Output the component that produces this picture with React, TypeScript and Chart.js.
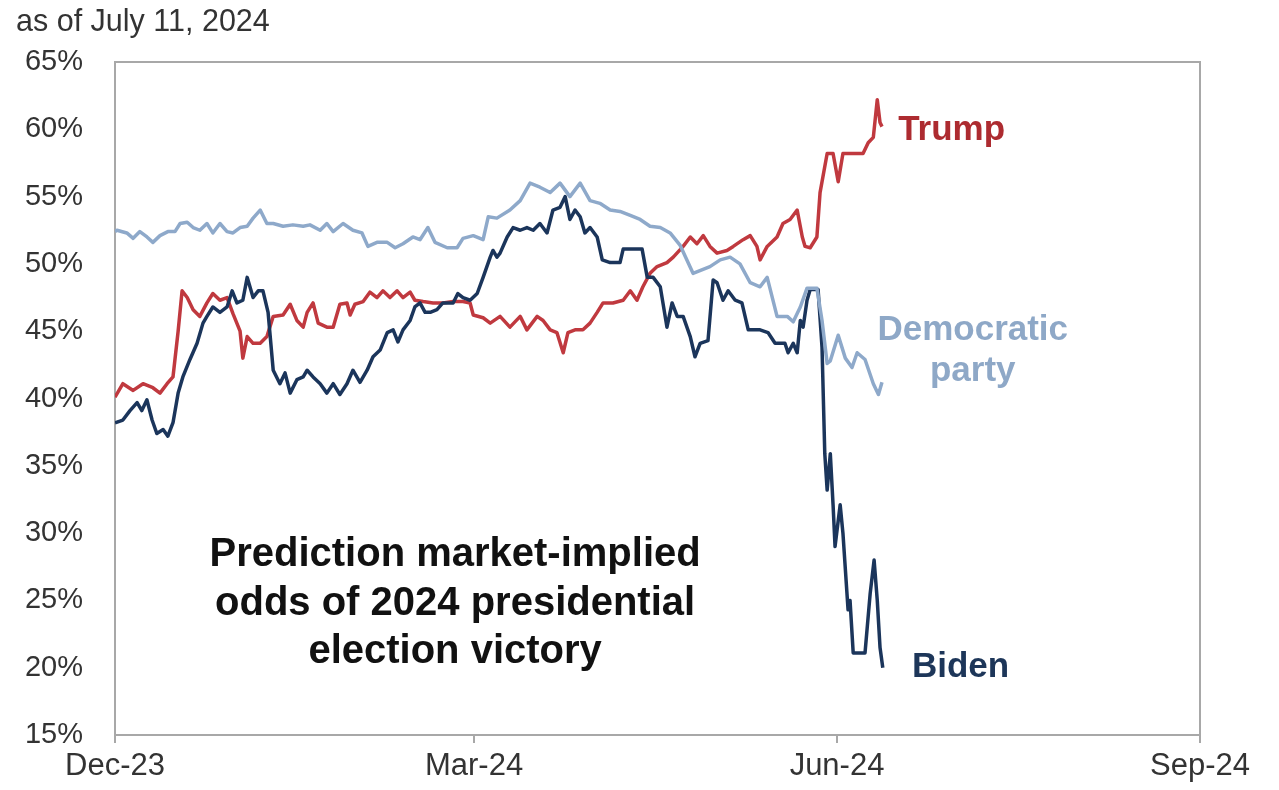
import React, { useEffect, useRef } from 'react';
import { Chart, registerables } from 'chart.js';

Chart.register(...registerables);

// x axis: days counted from the "Dec-23" tick
const tickDays = [0, 91, 183, 275];
const tickLabels = ['Dec-23', 'Mar-24', 'Jun-24', 'Sep-24'];

const yTicksMin = 15;
const yTicksMax = 65;

const demDays = [0, 0.5, 3.0, 4.6, 6.3, 8.1, 9.6, 11.4, 13.4, 15.2, 16.5, 18.3, 19.8, 21.5, 23.3, 24.8, 26.6, 28.4, 29.9, 31.7, 33.5, 35.0, 36.8, 38.5, 40.1, 42.6, 45.1, 47.7, 49.4, 52.0, 53.7, 55.3, 57.8, 60.3, 62.6, 64.1, 66.4, 69.0, 71.0, 73.0, 75.5, 77.3, 79.3, 81.1, 84.2, 86.7, 88.2, 90.8, 93.3, 94.6, 96.8, 100.1, 102.7, 105.2, 107.7, 110.3, 112.8, 115.3, 117.9, 120.4, 122.9, 125.5, 128.0, 130.6, 133.1, 135.6, 138.2, 140.7, 143.2, 146.5, 150.8, 153.4, 155.9, 158.4, 161.0, 163.5, 165.3, 167.8, 170.4, 171.9, 173.7, 175.4, 177.9, 179.2, 180.5, 181.3, 183.3, 185.1, 186.8, 188.1, 190.1, 192.2, 193.5, 194.4];
const demValues = [52.4, 52.5, 52.3, 51.9, 52.4, 52.0, 51.6, 52.1, 52.4, 52.4, 53.0, 53.1, 52.7, 52.5, 53.0, 52.3, 53.0, 52.4, 52.3, 52.7, 52.8, 53.4, 54.0, 53.0, 53.0, 52.8, 52.9, 52.8, 52.9, 52.5, 53.0, 52.4, 53.0, 52.5, 52.3, 51.3, 51.6, 51.6, 51.2, 51.5, 52.0, 51.8, 52.7, 51.6, 51.2, 51.2, 51.9, 52.1, 51.8, 53.5, 53.4, 54.0, 54.7, 56.0, 55.7, 55.3, 56.0, 55.0, 56.0, 54.7, 54.5, 54.0, 53.9, 53.6, 53.3, 52.8, 52.7, 52.3, 51.4, 49.3, 49.8, 50.3, 50.5, 50.0, 48.6, 48.3, 49.0, 46.1, 46.1, 45.7, 46.8, 48.2, 48.2, 45.8, 42.6, 42.8, 44.7, 43.0, 42.3, 43.4, 42.9, 41.1, 40.3, 41.2];

const bidenDays = [0, 2.0, 3.8, 5.6, 6.8, 8.1, 9.4, 10.6, 12.2, 13.4, 14.7, 16.0, 17.2, 19.0, 20.8, 22.3, 23.3, 24.8, 26.6, 28.4, 29.7, 30.9, 32.4, 33.5, 35.0, 36.3, 37.5, 38.8, 40.1, 41.8, 43.1, 44.4, 46.1, 47.7, 48.7, 50.2, 52.0, 53.7, 55.3, 57.0, 58.8, 60.3, 62.1, 63.9, 65.4, 67.2, 69.0, 70.5, 71.7, 73.0, 74.8, 76.0, 77.3, 78.6, 79.9, 81.6, 83.1, 85.7, 86.9, 88.2, 90.0, 91.8, 93.3, 95.1, 95.8, 96.8, 97.6, 99.4, 100.9, 102.7, 104.4, 106.0, 107.7, 109.5, 111.0, 112.8, 114.1, 115.3, 116.6, 117.9, 119.1, 120.4, 122.2, 123.5, 125.5, 128.0, 128.8, 131.3, 133.6, 134.9, 136.4, 138.2, 139.9, 141.2, 142.5, 144.0, 145.8, 147.0, 148.3, 150.3, 151.6, 152.6, 154.1, 155.4, 157.2, 158.9, 160.5, 163.5, 165.5, 167.3, 169.8, 170.6, 171.9, 172.9, 173.7, 174.4, 175.4, 176.2, 178.2, 179.2, 179.9, 180.5, 181.3, 182.0, 182.5, 183.8, 184.5, 185.8, 186.3, 187.1, 190.1, 191.4, 192.4, 193.2, 193.9, 194.6];
const bidenValues = [38.2, 38.4, 39.1, 39.7, 39.1, 39.9, 38.4, 37.4, 37.7, 37.2, 38.2, 40.4, 41.6, 42.9, 44.1, 45.6, 46.1, 46.8, 46.4, 46.8, 48.0, 47.1, 47.3, 49.0, 47.5, 48.0, 48.0, 46.4, 42.1, 41.1, 41.9, 40.4, 41.4, 41.6, 42.1, 41.6, 41.1, 40.4, 41.1, 40.3, 41.1, 42.1, 41.2, 42.1, 43.1, 43.6, 44.9, 45.1, 44.2, 45.1, 45.8, 46.8, 47.1, 46.4, 46.4, 46.6, 47.1, 47.1, 47.8, 47.5, 47.3, 47.8, 49.0, 50.5, 51.0, 50.5, 50.8, 52.0, 52.7, 52.5, 52.7, 52.5, 53.0, 52.3, 54.0, 54.2, 55.0, 53.3, 54.0, 53.5, 52.3, 52.7, 52.0, 50.3, 50.1, 50.1, 51.1, 51.1, 51.1, 49.0, 49.0, 48.3, 45.3, 47.1, 46.1, 46.1, 44.6, 43.1, 44.1, 44.3, 48.8, 48.6, 47.3, 48.0, 47.3, 47.1, 45.1, 45.1, 44.9, 44.1, 44.1, 43.4, 44.1, 43.4, 45.8, 45.3, 47.3, 48.1, 48.1, 43.8, 35.9, 33.2, 35.9, 32.1, 29.0, 32.1, 30.0, 24.3, 25.0, 21.1, 21.1, 25.5, 28.0, 25.0, 21.5, 20.0];

const trumpDays = [0, 2.0, 4.6, 7.1, 9.6, 11.4, 13.2, 14.7, 16.0, 17.0, 18.3, 19.8, 21.5, 23.3, 24.8, 26.6, 28.4, 29.9, 31.7, 32.4, 33.5, 35.0, 36.8, 38.5, 40.1, 42.6, 44.4, 46.1, 47.7, 48.7, 50.2, 51.5, 53.7, 55.3, 57.0, 58.8, 59.6, 60.8, 62.9, 64.6, 66.4, 67.9, 69.7, 71.5, 73.0, 74.8, 76.0, 78.1, 80.6, 83.1, 85.7, 88.2, 90.0, 90.8, 93.3, 95.1, 97.6, 100.1, 102.7, 104.4, 107.0, 108.5, 110.3, 112.0, 113.6, 114.8, 116.6, 118.6, 120.4, 122.2, 123.7, 126.2, 128.8, 130.6, 132.3, 133.8, 135.6, 137.4, 139.9, 141.5, 144.0, 145.8, 147.5, 149.1, 150.8, 152.6, 155.1, 156.7, 159.2, 161.0, 162.7, 163.5, 165.3, 167.8, 169.3, 171.1, 172.9, 174.2, 174.9, 176.2, 177.9, 178.7, 180.5, 182.0, 183.3, 184.5, 188.1, 189.6, 190.9, 192.2, 193.2, 193.9, 194.4];
const trumpValues = [40.1, 41.1, 40.6, 41.1, 40.8, 40.4, 41.1, 41.6, 45.0, 48.0, 47.5, 46.6, 46.1, 47.1, 47.8, 47.3, 47.5, 46.3, 45.0, 43.0, 44.6, 44.1, 44.1, 44.6, 46.1, 46.2, 47.0, 45.8, 45.3, 46.4, 47.1, 45.6, 45.3, 45.3, 47.0, 47.1, 46.2, 47.0, 47.2, 47.9, 47.5, 48.0, 47.5, 48.0, 47.5, 47.9, 47.3, 47.2, 47.1, 47.1, 47.2, 47.2, 47.1, 46.2, 46.0, 45.6, 46.1, 45.3, 46.1, 45.1, 46.1, 45.8, 45.1, 44.9, 43.4, 44.9, 45.1, 45.1, 45.6, 46.4, 47.1, 47.1, 47.3, 48.0, 47.3, 48.3, 49.3, 49.8, 50.1, 50.5, 51.3, 52.0, 51.5, 52.1, 51.3, 50.8, 51.0, 51.3, 51.8, 52.1, 51.3, 50.3, 51.3, 52.0, 53.0, 53.3, 54.0, 52.0, 51.3, 51.2, 52.0, 55.3, 58.2, 58.2, 56.1, 58.2, 58.2, 58.2, 59.0, 59.4, 62.2, 60.5, 60.2];

const FONT = '"Liberation Sans", Arial, Helvetica, sans-serif';

const COLORS = {
  dem: '#8ea9ca',
  biden: '#1b355b',
  trump: '#c0393f',
  trumpLabel: '#ad2b30',
  demLabel: '#8ea8c7',
  bidenLabel: '#1d3659',
  axis: '#a8a8a8',
  text: '#333333',
};

const annotations = [
  { text: 'Trump', day: 198.5, value: 59.95, color: COLORS.trumpLabel, align: 'left', size: 35 },
  { text: 'Democratic', day: 217.4, value: 45.1, color: COLORS.demLabel, align: 'center', size: 35 },
  { text: 'party', day: 217.4, value: 42.0, color: COLORS.demLabel, align: 'center', size: 35 },
  { text: 'Biden', day: 202.0, value: 20.05, color: COLORS.bidenLabel, align: 'left', size: 35 },
  { text: 'Prediction market-implied', day: 86.2, value: 28.37, color: '#111111', align: 'center', size: 40 },
  { text: 'odds of 2024 presidential', day: 86.2, value: 24.73, color: '#111111', align: 'center', size: 40 },
  { text: 'election victory', day: 86.2, value: 21.17, color: '#111111', align: 'center', size: 40 },
];

const toPoints = (days: number[], vals: number[]) => days.map((d, i) => ({ x: d, y: vals[i] }));

const framePlugin = {
  id: 'frame',
  beforeDatasetsDraw(chart: any) {
    const { ctx, chartArea } = chart;
    const { left, top, right, bottom } = chartArea;
    ctx.save();
    ctx.strokeStyle = COLORS.axis;
    ctx.lineWidth = 2;
    ctx.strokeRect(left, top, right - left, bottom - top);
    ctx.restore();
  },
};

const textPlugin = {
  id: 'texts',
  afterDraw(chart: any) {
    const { ctx, scales } = chart;
    const xs = scales.x;
    const ys = scales.y;
    ctx.save();
    ctx.textBaseline = 'middle';
    for (const a of annotations) {
      ctx.font = `bold ${a.size}px ${FONT}`;
      ctx.fillStyle = a.color;
      ctx.textAlign = a.align;
      ctx.fillText(a.text, xs.getPixelForValue(a.day), ys.getPixelForValue(a.value));
    }
    ctx.font = `30.5px ${FONT}`;
    ctx.fillStyle = COLORS.text;
    ctx.textAlign = 'left';
    ctx.fillText('as of July 11, 2024', 16, 23);
    ctx.restore();
  },
};

export default function App() {
  const canvasRef = useRef<HTMLCanvasElement>(null);

  useEffect(() => {
    const canvas = canvasRef.current;
    if (!canvas) return;
    const lineStyle = { borderWidth: 3.5, pointRadius: 0, tension: 0, borderJoinStyle: 'round' };
    const chart = new Chart(canvas, {
      type: 'line',
      data: {
        datasets: [
          { label: 'Democratic party', data: toPoints(demDays, demValues), borderColor: COLORS.dem, ...lineStyle },
          { label: 'Biden', data: toPoints(bidenDays, bidenValues), borderColor: COLORS.biden, ...lineStyle },
          { label: 'Trump', data: toPoints(trumpDays, trumpValues), borderColor: COLORS.trump, ...lineStyle },
        ],
      },
      options: {
        animation: false,
        responsive: true,
        maintainAspectRatio: false,
        layout: { padding: { top: 62, right: 79, bottom: 0, left: 0 } },
        plugins: {
          legend: { display: false },
          tooltip: { enabled: false },
          title: { display: false },
        },
        scales: {
          x: {
            type: 'linear',
            min: tickDays[0],
            max: tickDays[tickDays.length - 1],
            afterBuildTicks: (scale: any) => {
              scale.ticks = tickDays.map((v) => ({ value: v }));
            },
            afterFit: (scale: any) => {
              scale.height = 55;
            },
            grid: {
              display: true,
              drawOnChartArea: false,
              drawTicks: true,
              tickLength: 8,
              color: COLORS.axis,
              lineWidth: 2,
            },
            border: { display: false },
            ticks: {
              autoSkip: false,
              maxRotation: 0,
              padding: 5,
              color: COLORS.text,
              font: { family: FONT, size: 31 },
              callback: (_v: any, i: number) => tickLabels[i],
            },
          },
          y: {
            type: 'linear',
            min: yTicksMin,
            max: yTicksMax,
            afterFit: (scale: any) => {
              scale.width = 115;
            },
            grid: { display: false, drawTicks: false },
            border: { display: false },
            ticks: {
              stepSize: 5,
              padding: 32,
              color: COLORS.text,
              font: { family: FONT, size: 29 },
              callback: (v: any) => `${v}%`,
            },
          },
        },
      },
      plugins: [framePlugin, textPlugin],
    } as any);
    return () => chart.destroy();
  }, []);

  return (
    <div style={{ position: 'fixed', left: 0, top: 0, width: 1279, height: 790, background: '#ffffff' }}>
      <canvas ref={canvasRef} />
    </div>
  );
}
